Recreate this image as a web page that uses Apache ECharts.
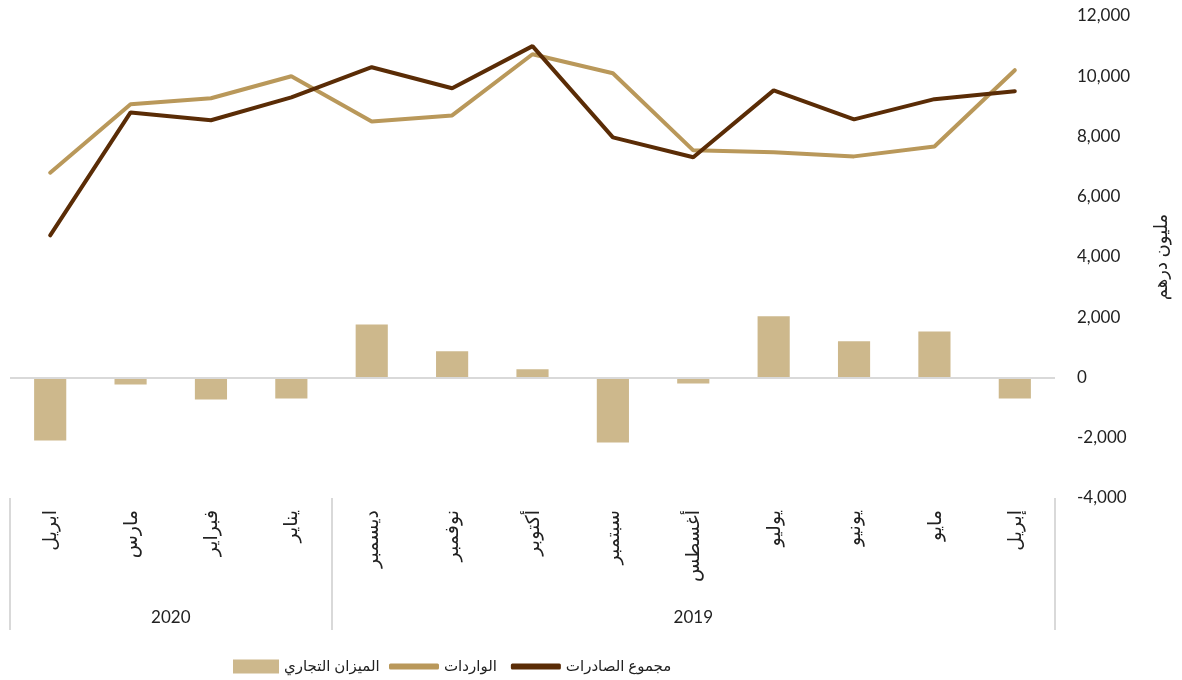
<!DOCTYPE html>
<html>
<head>
<meta charset="utf-8">
<script src="https://cdn.jsdelivr.net/npm/echarts@6/dist/echarts.min.js"></script>
<style>
  html, body { margin: 0; padding: 0; background: #fff; }
  #main { width: 1182px; height: 680px; }
</style>
</head>
<body>
<div id="main"></div>
<script>
const months = ['ابريل', 'مارس', 'فبراير', 'يناير', 'ديسمبر', 'نوفمبر', 'أكتوبر', 'سبتمبر', 'أغسطس', 'يوليو', 'يونيو', 'مايو', 'إبريل'];
const years = ['2020', '2019'];
const yearSpans = [4, 9]; // عدد الأشهر في كل سنة
const imports = [6800, 9070, 9270, 10000, 8500, 8700, 10730, 10100, 7540, 7475, 7340, 7670, 10200];
const exportsTotal = [4720, 8800, 8540, 9300, 10300, 9600, 11000, 7970, 7310, 9530, 8570, 9240, 9500];
const tradeBalance = [-2090, -230, -730, -700, 1760, 870, 270, -2160, -200, 2030, 1200, 1530, -700];
const yTicks = { min: -4000, max: 12000, step: 2000 };

const fontMain = "Lato, 'DejaVu Sans', sans-serif";

// حدود السنوات ومراكزها على محور 0..13
const yearEdges = [0];
yearSpans.forEach(n => yearEdges.push(yearEdges[yearEdges.length - 1] + n));
const yearCenters = yearSpans.map((n, i) => yearEdges[i] + n / 2);

const chart = echarts.init(document.getElementById('main'));

const legendText = { fontSize: 15, color: '#222', fontFamily: fontMain };

const option = {
    animation: false,
    textStyle: { fontFamily: fontMain },
    grid: { left: 10, right: 127, top: 16, bottom: 182 },
    legend: [
        {
            left: 228,
            top: 654,
            itemWidth: 46,
            itemHeight: 14,
            icon: 'rect',
            textStyle: legendText,
            data: ['الميزان التجاري']
        },
        {
            left: 384,
            top: 654,
            itemWidth: 50,
            itemHeight: 6,
            itemGap: 14,
            icon: 'roundRect',
            textStyle: legendText,
            data: ['الواردات', 'مجموع الصادرات']
        }
    ],
    xAxis: [
        {
            type: 'category',
            data: months,
            position: 'bottom',
            axisLine: { show: false, onZero: false },
            axisTick: { show: false },
            axisLabel: {
                interval: 0,
                rotate: 90,
                margin: 12,
                fontSize: 19,
                color: '#222'
            }
        },
        {
            type: 'value',
            min: 0,
            max: months.length,
            position: 'bottom',
            axisLine: { show: false, onZero: false },
            splitLine: { show: false },
            axisTick: {
                show: true,
                customValues: yearEdges,
                length: 132,
                lineStyle: { color: '#d9d9d9', width: 2 }
            },
            axisLabel: {
                customValues: yearCenters,
                margin: 111,
                fontSize: 17,
                color: '#222',
                formatter: v => {
                    const i = yearCenters.indexOf(v);
                    return i >= 0 ? years[i] : '';
                }
            }
        }
    ],
    yAxis: {
        type: 'value',
        position: 'right',
        min: yTicks.min,
        max: yTicks.max,
        interval: yTicks.step,
        name: 'مليون درهم',
        nameLocation: 'middle',
        nameRotate: 90,
        nameGap: 97,
        nameTextStyle: { fontSize: 18, color: '#222', fontFamily: fontMain },
        axisLine: { show: false },
        axisTick: { show: false },
        splitLine: { show: false },
        axisLabel: {
            margin: 22,
            fontSize: 17,
            color: '#222',
            formatter: v => v.toLocaleString('en-US')
        }
    },
    series: [
        {
            name: 'الميزان التجاري',
            type: 'bar',
            data: tradeBalance,
            barWidth: '40%',
            itemStyle: { color: '#CDB88C' },
            markLine: {
                silent: true,
                symbol: 'none',
                label: { show: false },
                lineStyle: { color: '#d9d9d9', type: 'solid', width: 2 },
                data: [{ yAxis: 0 }]
            }
        },
        {
            name: 'الواردات',
            type: 'line',
            data: imports,
            symbol: 'none',
            lineStyle: { color: '#B9985A', width: 4, cap: 'round' },
            itemStyle: { color: '#B9985A' }
        },
        {
            name: 'مجموع الصادرات',
            type: 'line',
            data: exportsTotal,
            symbol: 'none',
            lineStyle: { color: '#5A2C06', width: 4, cap: 'round' },
            itemStyle: { color: '#5A2C06' }
        }
    ]
};

chart.setOption(option);
</script>
</body>
</html>
